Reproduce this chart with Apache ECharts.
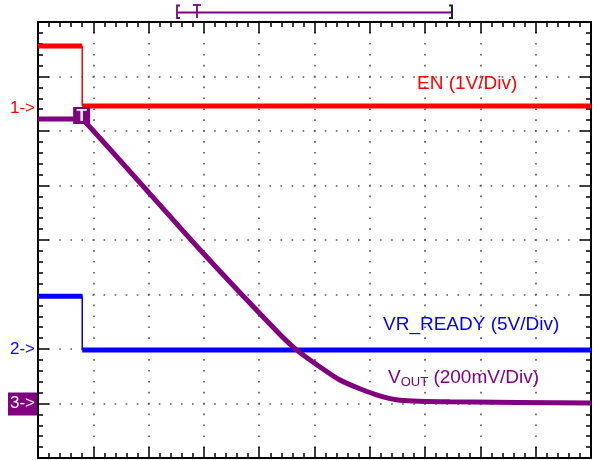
<!DOCTYPE html>
<html><head><meta charset="utf-8">
<script src="https://cdn.jsdelivr.net/npm/echarts@6/dist/echarts.min.js"></script>
<style>html,body{margin:0;padding:0;background:#fff}#c{width:598px;height:460px}</style>
</head><body><div id="c"></div>
<script>
// divisions: x 0..10, y 0..8 (bottom = 0)
const xDivs = [0, 10];
const yDivs = [0, 8];
// EN (ch1)
const enTime = [0, 0.80, 0.80, 10];
const enLevel = [7.56, 7.56, 6.46, 6.46];
// VR_READY (ch2)
const rdyTime = [0, 0.80, 0.80, 10];
const rdyLevel = [2.97, 2.97, 1.98, 1.98];
// VOUT (ch3)
const voutTime = [0, 0.72, 0.85, 2.93, 4.38, 4.68, 5.10, 5.46, 5.82, 6.18, 6.55, 7.45, 10];
const voutLevel = [6.22, 6.22, 6.17, 3.82, 2.26, 1.98, 1.67, 1.43, 1.27, 1.14, 1.06, 1.03, 1.01];
// channel reference markers
const refLevels = [6.42, 2.0, 1.0];
const refNames = ['1->', '2->', '3->'];
const trigTime = 0.78;

const RED = '#ff0000', BLUE = '#0000ff', PURPLE = '#800080';

function stepThick(t, v) {
  return [[t[0], v[0]], [t[1], v[1]], [t[1], '-'], [t[2], v[2]], [t[3], v[3]]];
}
function stepEdge(t, v) { return [[t[1], v[1]], [t[2], v[2]]]; }

const chart = echarts.init(document.getElementById('c'), null, {renderer: 'canvas'});

function xAx(pos, split) {
  return {
    type: 'value', min: xDivs[0], max: xDivs[1], interval: 1, position: pos,
    axisLine: {show: true, onZero: false, lineStyle: {color: '#000', width: 2}},
    axisTick: {show: true, inside: true, length: 11, lineStyle: {color: '#000', width: 1.5}},
    minorTick: {show: true, splitNumber: 5, length: 5, lineStyle: {color: '#000', width: 1.5}},
    axisLabel: {show: false},
    splitLine: {show: split, lineStyle: {color: '#555', width: 1.6, type: [1.6, 9.3], dashOffset: 0.8}}
  };
}
function yAx(pos, split) {
  return {
    type: 'value', min: yDivs[0], max: yDivs[1], interval: 1, position: pos,
    axisLine: {show: true, onZero: false, lineStyle: {color: '#000', width: 2}},
    axisTick: {show: true, inside: true, length: 11, lineStyle: {color: '#000', width: 1.5}},
    minorTick: {show: true, splitNumber: 5, length: 5, lineStyle: {color: '#000', width: 1.5}},
    axisLabel: {show: false},
    splitLine: {show: split, lineStyle: {color: '#555', width: 1.6, type: [1.6, 9.46], dashOffset: 0.8}}
  };
}

const lineBase = {type: 'line', showSymbol: false, symbol: 'none', animation: false, connectNulls: false, silent: true};

chart.setOption({
  animation: false,
  backgroundColor: '#fff',
  grid: {left: 38, top: 22, right: 7, bottom: 2},
  xAxis: [xAx('bottom', true), xAx('top', false)],
  yAxis: [yAx('left', true), yAx('right', false)],
  series: [
    Object.assign({}, lineBase, {name: 'EN', data: stepThick(enTime, enLevel), lineStyle: {color: RED, width: 5}, z: 3}),
    Object.assign({}, lineBase, {name: 'EN edge', data: stepEdge(enTime, enLevel), lineStyle: {color: RED, width: 1.5}, z: 3}),
    Object.assign({}, lineBase, {name: 'VR_READY', data: stepThick(rdyTime, rdyLevel), lineStyle: {color: BLUE, width: 5}, z: 3}),
    Object.assign({}, lineBase, {name: 'VR edge', data: stepEdge(rdyTime, rdyLevel), lineStyle: {color: BLUE, width: 1.5}, z: 3}),
    Object.assign({}, lineBase, {name: 'VOUT', smooth: 0.2, data: voutTime.map((t, i) => [t, voutLevel[i]]), lineStyle: {color: PURPLE, width: 5}, z: 4})
  ]
});

const g = [];
const refColors = [RED, BLUE, '#fff'];
refLevels.forEach((lv, i) => {
  const p = chart.convertToPixel({xAxisIndex: 0, yAxisIndex: 0}, [0, lv]);
  if (i === 2) {
    g.push({type: 'rect', shape: {x: 8, y: p[1] - 11, width: 29, height: 23}, style: {fill: PURPLE}, z: 10});
  }
  g.push({type: 'text', x: 10, y: p[1], z: 11,
    style: {text: refNames[i], fill: refColors[i], font: '17px "Liberation Sans", Arial, sans-serif', verticalAlign: 'middle', textAlign: 'left'}});
});
// trigger marker on VOUT trace
const tp = chart.convertToPixel({xAxisIndex: 0, yAxisIndex: 0}, [trigTime, voutLevel[0]]);
g.push({type: 'rect', shape: {x: tp[0] - 8, y: tp[1] - 12, width: 17, height: 17}, style: {fill: PURPLE}, z: 10});
g.push({type: 'text', x: tp[0] + 0.5, y: tp[1] - 3, z: 11,
  style: {text: 'T', fill: '#fff', font: 'bold 17px "Liberation Sans", Arial, sans-serif', textAlign: 'center', verticalAlign: 'middle'}});

// trace labels
g.push({type: 'text', x: 417, y: 84, z: 12, style: {text: 'EN (1V/Div)', fill: RED, font: '19px "Liberation Sans", Arial, sans-serif', verticalAlign: 'middle'}});
g.push({type: 'text', x: 383, y: 325, z: 12, style: {text: 'VR_READY (5V/Div)', fill: BLUE, font: '19px "Liberation Sans", Arial, sans-serif', verticalAlign: 'middle'}});
g.push({type: 'text', x: 388, y: 378, z: 12, style: {
  text: 'V{s|OUT} (200mV/Div)', fill: PURPLE, font: '19px "Liberation Sans", Arial, sans-serif', verticalAlign: 'middle',
  rich: {s: {fontSize: 13, fontFamily: '"Liberation Sans", Arial, sans-serif', fill: PURPLE, padding: [9, 0, 0, 0]}}
}});

// top horizontal position indicator
const TY = 12.5;
g.push({type: 'line', shape: {x1: 177, y1: TY, x2: 452, y2: TY}, style: {stroke: PURPLE, lineWidth: 1.8}, z: 10});
g.push({type: 'polyline', shape: {points: [[180, 5.5], [177, 5.5], [177, 18], [180, 18]]}, style: {stroke: PURPLE, lineWidth: 1.8, fill: null}, z: 10});
g.push({type: 'line', shape: {x1: 193, y1: 5, x2: 201, y2: 5}, style: {stroke: PURPLE, lineWidth: 1.8}, z: 10});
g.push({type: 'line', shape: {x1: 197, y1: 5, x2: 197, y2: 18}, style: {stroke: PURPLE, lineWidth: 1.8}, z: 10});
g.push({type: 'polyline', shape: {points: [[449, 5.5], [452, 5.5], [452, 18], [449, 18]]}, style: {stroke: '#222', lineWidth: 2, fill: null}, z: 10});

chart.setOption({graphic: g});
</script>
</body></html>
